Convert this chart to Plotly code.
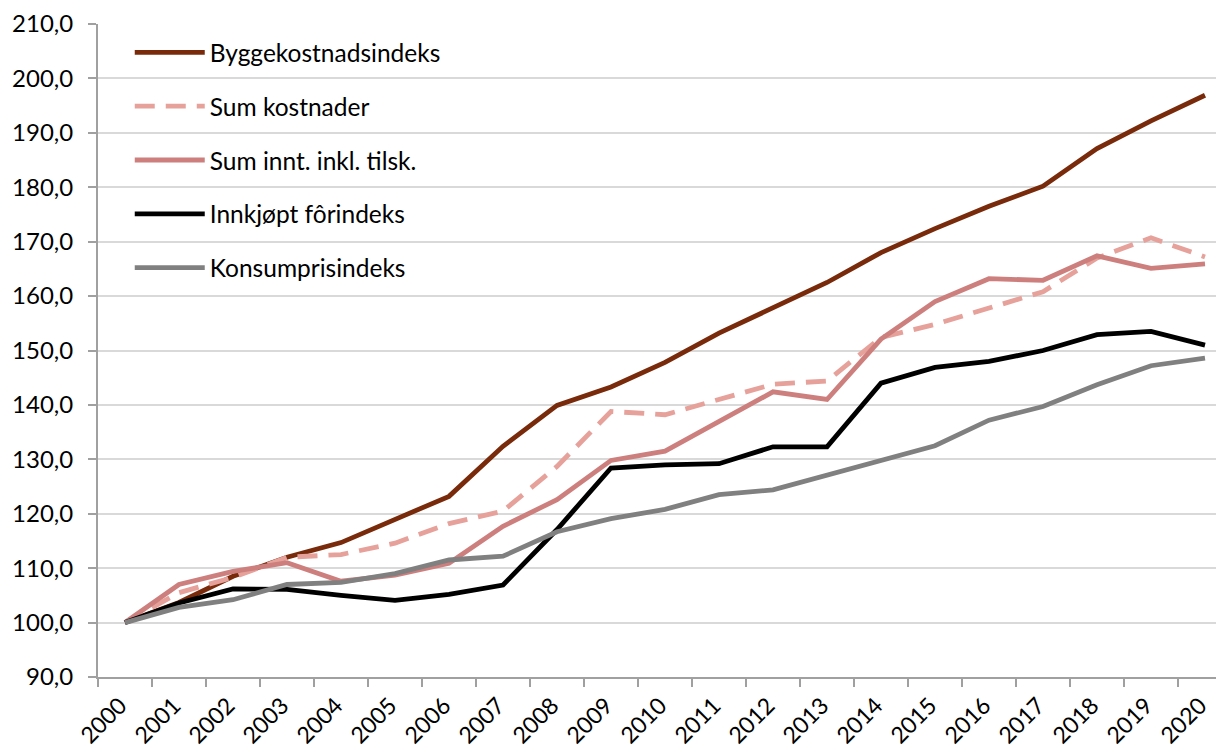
import plotly.graph_objects as go

years = [str(y) for y in range(2000, 2021)]

bygg = [100.0, 103.7, 108.5, 112.0, 114.7, 118.9, 123.2, 132.4, 139.9, 143.3, 147.8,
        153.2, 157.9, 162.5, 168.0, 172.4, 176.5, 180.2, 187.1, 192.2, 196.9]
sum_kost = [100.0, 105.5, 108.3, 112.0, 112.5, 114.6, 118.2, 120.5, 128.7, 138.8, 138.2,
            140.9, 143.8, 144.4, 152.4, 154.8, 157.8, 160.8, 167.0, 170.7, 167.2]
sum_innt = [100.0, 107.0, 109.4, 111.0, 107.6, 108.7, 110.9, 117.7, 122.6, 129.8, 131.5,
            137.0, 142.4, 141.0, 152.1, 159.0, 163.2, 162.9, 167.4, 165.1, 165.9]
forindeks = [100.0, 103.6, 106.2, 106.1, 105.0, 104.1, 105.2, 106.9, 117.1, 128.4, 129.0,
             129.2, 132.3, 132.3, 144.0, 146.9, 148.0, 150.0, 152.9, 153.5, 151.0]
kpi = [100.0, 102.8, 104.2, 107.0, 107.4, 109.0, 111.5, 112.2, 116.7, 119.1, 120.8,
       123.5, 124.4, 127.1, 129.7, 132.5, 137.2, 139.7, 143.7, 147.2, 148.6]

series = [
    ("Byggekostnadsindeks", bygg, "#782A0A", "solid"),
    ("Sum kostnader", sum_kost, "#E6A19B", "20px,11px"),
    ("Sum innt. inkl. tilsk.", sum_innt, "#CD7F7D", "solid"),
    ("Innkjøpt fôrindeks", forindeks, "#000000", "solid"),
    ("Konsumprisindeks", kpi, "#808080", "solid"),
]

fig = go.Figure()
for i, (name, vals, color, dash) in enumerate(series):
    fig.add_trace(go.Scatter(
        x=years, y=vals, name=name, mode="lines",
        line=dict(color=color, width=4.8, dash=dash),
        legendgroup=f"g{i}",
    ))

fig.update_layout(
    width=1224, height=751,
    margin=dict(l=90, r=0, t=16, b=82, autoexpand=False),
    paper_bgcolor="white", plot_bgcolor="white",
    separators=", ",
    font=dict(family="Lato, 'Open Sans', sans-serif", size=24, color="#000000"),
    showlegend=True,
    legend=dict(
        x=0.028, y=0.991, xanchor="left", yanchor="top",
        bgcolor="rgba(0,0,0,0)",
        font=dict(size=24.5, color="#000000"),
        itemwidth=70,
        tracegroupgap=19,
        traceorder="grouped",
    ),
    xaxis=dict(
        type="category",
        range=[-0.5, 20.5],
        tickson="boundaries",
        ticks="outside", ticklen=8, tickcolor="#A0A0A0", tickwidth=2,
        showline=True, linecolor="#A0A0A0", linewidth=2,
        showgrid=False, tickangle=-45,
        tickfont=dict(size=23),
        ticklabelstandoff=4,
        ticklabelshift=-5,
        automargin=False,
    ),
    yaxis=dict(
        range=[90, 210], dtick=10, tick0=90,
        tickformat=".1f",
        ticks="outside", ticklen=8, tickcolor="#A0A0A0", tickwidth=2,
        showline=True, linecolor="#A0A0A0", linewidth=2,
        showgrid=True, gridcolor="#D9D9D9", gridwidth=2,
        zeroline=False,
        ticklabelstandoff=10,
        tickfont=dict(size=24),
        automargin=False,
    ),
)

fig.write_html("out.html")
